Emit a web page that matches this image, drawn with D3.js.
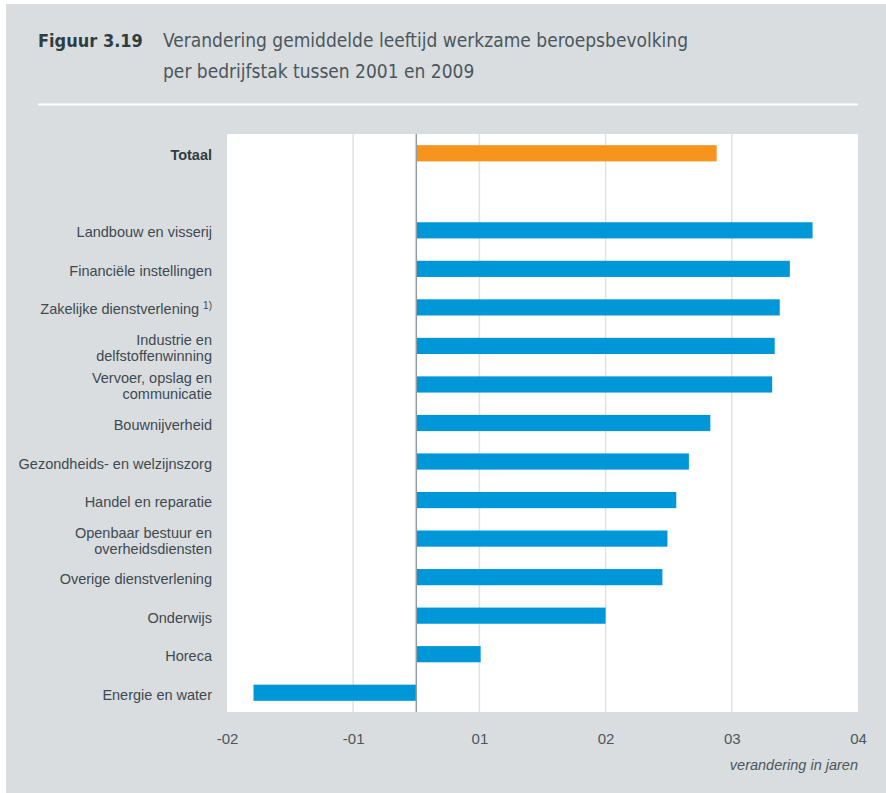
<!DOCTYPE html>
<html>
<head>
<meta charset="utf-8">
<script src="https://cdn.jsdelivr.net/npm/d3@7"></script>
<style>
  body { margin: 0; background: #fff; }
  svg { display: block; }
</style>
</head>
<body>
<svg id="chart" width="886" height="793"></svg>
<script>
// categories top to bottom, "" is the empty row under Totaal
var categories = [
  "Totaal", "",
  "Landbouw en visserij",
  "Financiële instellingen",
  "Zakelijke dienstverlening",
  "Industrie en delfstoffenwinning",
  "Vervoer, opslag en communicatie",
  "Bouwnijverheid",
  "Gezondheids- en welzijnszorg",
  "Handel en reparatie",
  "Openbaar bestuur en overheidsdiensten",
  "Overige dienstverlening",
  "Onderwijs",
  "Horeca",
  "Energie en water"
];
var values = [2.38, null, 3.14, 2.96, 2.88, 2.84, 2.82, 2.33, 2.16, 2.06, 1.99, 1.95, 1.50, 0.51, -1.29];
// label lines as printed
var labelLines = {
  "Industrie en delfstoffenwinning": ["Industrie en", "delfstoffenwinning"],
  "Vervoer, opslag en communicatie": ["Vervoer, opslag en", "communicatie"],
  "Openbaar bestuur en overheidsdiensten": ["Openbaar bestuur en", "overheidsdiensten"]
};
var tickValues = [-1.5, -0.5, 0.5, 1.5, 2.5, 3.5];
var tickLabels = ["-02", "-01", "01", "02", "03", "04"];

var svg = d3.select("#chart");

// grey panel
svg.append("rect").attr("x", 6).attr("y", 4).attr("width", 880).attr("height", 789)
    .attr("fill", "#d9dde0");

// title
var titleFont = "'Liberation Sans Narrow', 'DejaVu Sans Condensed', sans-serif";
svg.append("text").attr("x", 38).attr("y", 47)
    .attr("font-family", titleFont).attr("font-weight", "bold").attr("font-size", 18)
    .attr("fill", "#2f3d43").text("Figuur 3.19");
svg.append("text").attr("x", 163).attr("y", 47)
    .attr("font-family", titleFont).attr("font-size", 19)
    .attr("fill", "#4b575c").text("Verandering gemiddelde leeftijd werkzame beroepsbevolking");
svg.append("text").attr("x", 163).attr("y", 78)
    .attr("font-family", titleFont).attr("font-size", 19)
    .attr("fill", "#4b575c").text("per bedrijfstak tussen 2001 en 2009");
svg.append("line").attr("x1", 38).attr("x2", 858).attr("y1", 104.5).attr("y2", 104.5)
    .attr("stroke", "#fff").attr("stroke-width", 2);

var plotLeft = 227, plotRight = 858, plotTop = 134, plotBottom = 712;

var x = d3.scaleLinear().domain([-1.5, 3.5]).range([plotLeft, plotRight]);
var y = d3.scaleBand().domain(categories).range([plotTop, plotBottom]).paddingInner(0.58).paddingOuter(0.29);

svg.append("rect").attr("x", plotLeft).attr("y", plotTop)
    .attr("width", plotRight - plotLeft).attr("height", plotBottom - plotTop)
    .attr("fill", "#fff");

// gridlines
svg.append("g").selectAll("line")
    .data(tickValues.filter(function(d) { return d > -1.5 && d < 3.5; }))
    .enter().append("line")
    .attr("x1", function(d) { return x(d); }).attr("x2", function(d) { return x(d); })
    .attr("y1", plotTop).attr("y2", plotBottom)
    .attr("stroke", "#dfe1e3").attr("stroke-width", 1.5);

// bars
svg.append("g").selectAll("rect")
    .data(categories.map(function(c, i) { return { name: c, value: values[i] }; })
      .filter(function(d) { return d.value !== null; }))
    .enter().append("rect")
    .attr("x", function(d) { return x(Math.min(0, d.value)); })
    .attr("width", function(d) { return Math.abs(x(d.value) - x(0)); })
    .attr("y", function(d) { return y(d.name); })
    .attr("height", y.bandwidth())
    .attr("fill", function(d) { return d.name == "Totaal" ? "#f7941e" : "#0097d9"; });

// zero line
svg.append("line").attr("x1", x(0)).attr("x2", x(0)).attr("y1", plotTop).attr("y2", plotBottom)
    .attr("stroke", "#8e9da3").attr("stroke-width", 1.5);

// category labels
var labelFont = "'Liberation Sans', Arial, sans-serif";
var lab = svg.append("g").attr("font-family", labelFont).attr("font-size", 14.5).attr("fill", "#3e4a4f");
categories.forEach(function(c) {
  if (c == "") return;
  var cy = y(c) + y.bandwidth() / 2 + 2;
  var lines = labelLines[c] || [c];
  var t = lab.append("text").attr("text-anchor", "end")
      .attr("font-weight", c == "Totaal" ? "bold" : null);
  if (c == "Totaal") t.attr("fill", "#2f3d43");
  if (c == "Zakelijke dienstverlening") {
    t.append("tspan").attr("x", 212).attr("y", cy + 5).text("Zakelijke dienstverlening ");
    t.append("tspan").attr("font-size", 10).attr("dy", -5).text("1)");
    return;
  }
  lines.forEach(function(l, i) {
    t.append("tspan").attr("x", 212)
      .attr("y", cy + 5 + (i - (lines.length - 1) / 2) * 16)
      .text(l);
  });
});

// x axis
var xAxis = d3.axisBottom(x).tickValues(tickValues)
    .tickFormat(function(d, i) { return tickLabels[i]; })
    .tickSize(0).tickPadding(0);
var ax = svg.append("g").attr("transform", "translate(0," + 733 + ")").call(xAxis);
ax.select(".domain").remove();
ax.selectAll("text").attr("font-family", labelFont).attr("font-size", 15).attr("fill", "#4b575c");

svg.append("text").attr("x", plotRight).attr("y", 770).attr("text-anchor", "end")
    .attr("font-family", labelFont).attr("font-size", 14.5).attr("font-style", "italic")
    .attr("fill", "#4b575c").text("verandering in jaren");
</script>
</body>
</html>
